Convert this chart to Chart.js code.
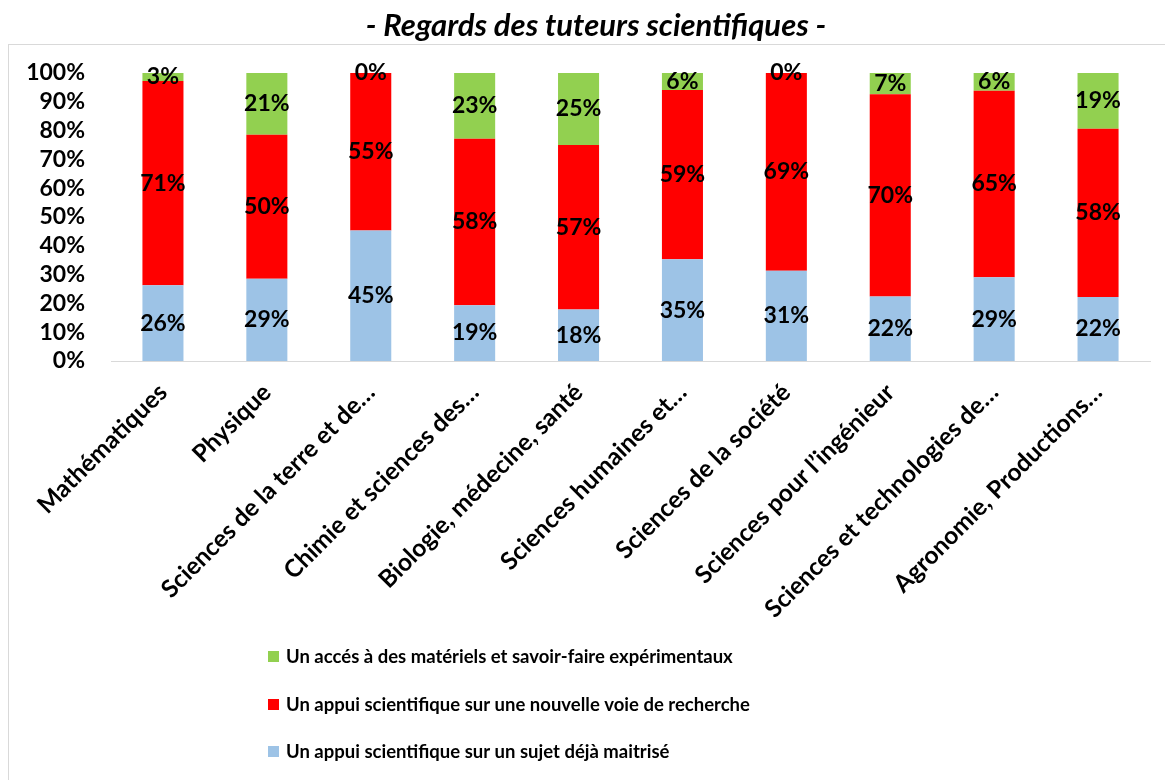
<!DOCTYPE html>
<html>
<head>
<meta charset="utf-8">
<script src="https://cdn.jsdelivr.net/npm/chart.js@4.4.1/dist/chart.umd.min.js"></script>
<style>
  html, body { margin: 0; padding: 0; background: #fff; }
  #graphique { display: block; }
</style>
</head>
<body>
<canvas id="graphique" width="1165" height="780"></canvas>
<script>
// Données (en %)
const disciplines = [
    'Mathématiques',
    'Physique',
    'Sciences de la terre et de…',
    'Chimie et sciences des…',
    'Biologie, médecine, santé',
    'Sciences humaines et…',
    'Sciences de la société',
    'Sciences pour l’ingénieur',
    'Sciences et technologies de…',
    'Agronomie, Productions…'
];
const sujetMaitrise = [26.3, 28.6, 45.3, 19.4, 17.9, 35.3, 31.3, 22.4, 29.1, 22.2];
const nouvelleVoie = [70.9, 50.0, 54.7, 57.8, 57.1, 58.8, 68.7, 70.2, 64.7, 58.4];
const materielsExp = [2.8, 21.4, 0, 22.8, 25.0, 5.9, 0, 7.4, 6.2, 19.4];
const graduationsY = [0, 10, 20, 30, 40, 50, 60, 70, 80, 90, 100];

const titre = '- Regards des tuteurs scientifiques -';
const police = 'Lato, "Open Sans", sans-serif';

// Cadre, titre et étiquettes de valeurs
const decorPlugin = {
    id: 'decor',
    beforeDraw(chart) {
        const ctx = chart.ctx;
        ctx.save();
        ctx.fillStyle = '#fff';
        ctx.fillRect(0, 0, chart.width, chart.height);
        ctx.strokeStyle = '#d9d9d9';
        ctx.lineWidth = 1;
        ctx.strokeRect(8.5, 44.5, chart.width + 20, chart.height + 20);
        ctx.fillStyle = '#000';
        ctx.font = 'italic bold 31px ' + police;
        ctx.textAlign = 'center';
        ctx.textBaseline = 'middle';
        ctx.fillText(titre, 596, 26);
        ctx.restore();
    },
    afterDatasetsDraw(chart) {
        const ctx = chart.ctx;
        ctx.save();
        ctx.fillStyle = '#000';
        ctx.font = 'bold 23px ' + police;
        ctx.textAlign = 'center';
        ctx.textBaseline = 'middle';
        chart.data.datasets.forEach((ds, i) => {
            const meta = chart.getDatasetMeta(i);
            meta.data.forEach((bar, j) => {
                const yMid = (bar.y + bar.base) / 2;
                ctx.fillText(Math.round(ds.data[j]) + '%', bar.x, yMid);
            });
        });
        ctx.restore();
    },
    afterDraw(chart) {
        // Légende en colonne, ordre inversé comme dans Excel
        const ctx = chart.ctx;
        ctx.save();
        ctx.font = 'bold 18.5px ' + police;
        ctx.textBaseline = 'middle';
        const lignes = [657, 705, 752];
        const ds = chart.data.datasets.slice().reverse();
        ds.forEach((d, k) => {
            ctx.fillStyle = d.backgroundColor;
            ctx.fillRect(268, lignes[k] - 6, 11, 11);
            ctx.fillStyle = '#000';
            ctx.fillText(d.label, 286, lignes[k]);
        });
        ctx.restore();
    }
};

new Chart(document.getElementById('graphique'), {
    type: 'bar',
    data: {
        labels: disciplines,
        datasets: [
            {
                label: 'Un appui scientifique sur un sujet déjà maitrisé',
                data: sujetMaitrise,
                backgroundColor: '#9dc3e6'
            },
            {
                label: 'Un appui scientifique sur une nouvelle voie de recherche',
                data: nouvelleVoie,
                backgroundColor: '#ff0000'
            },
            {
                label: 'Un accés à des matériels et savoir-faire expérimentaux',
                data: materielsExp,
                backgroundColor: '#92d050'
            }
        ]
    },
    options: {
        responsive: false,
        animation: false,
        events: [],
        datasets: {
            bar: { barPercentage: 0.395, categoryPercentage: 1 }
        },
        layout: { padding: { left: 8, top: 73, right: 15, bottom: 0 } },
        plugins: {
            legend: { display: false },
            tooltip: { enabled: false },
            title: { display: false }
        },
        scales: {
            x: {
                stacked: true,
                grid: { display: false, drawTicks: false },
                border: { display: true, color: '#d9d9d9', width: 1 },
                ticks: {
                    autoSkip: false,
                    maxRotation: 45,
                    minRotation: 45,
                    padding: 17,
                    color: '#000',
                    font: { family: police, size: 24.5, weight: 'bold' }
                },
                afterFit(scale) { scale.height = 419; }
            },
            y: {
                stacked: true,
                min: 0,
                max: 100,
                grid: { display: false, drawTicks: false },
                border: { display: false },
                afterBuildTicks(scale) {
                    scale.ticks = graduationsY.map(v => ({ value: v }));
                },
                ticks: {
                    autoSkip: false,
                    padding: 26,
                    color: '#000',
                    font: { family: police, size: 23, weight: 'bold' },
                    callback: v => v + '%'
                },
                afterFit(scale) { scale.width = 103; }
            }
        }
    },
    plugins: [decorPlugin]
});
</script>
</body>
</html>
